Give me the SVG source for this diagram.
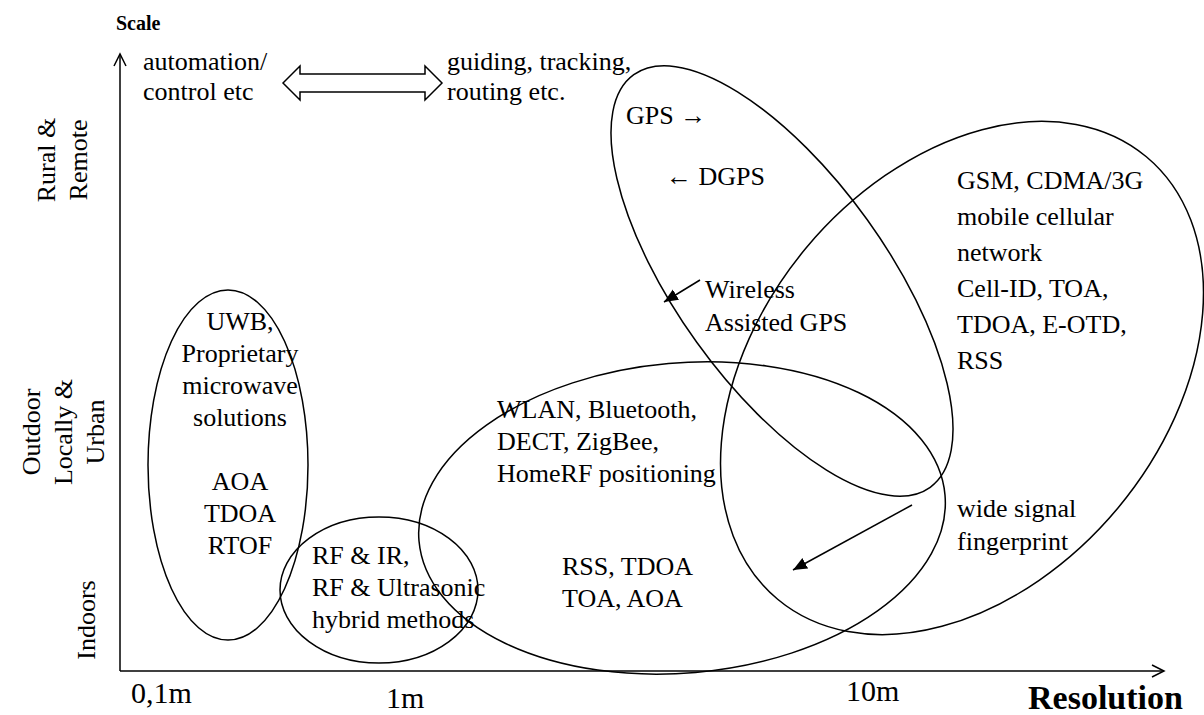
<svg xmlns="http://www.w3.org/2000/svg" width="1204" height="715" viewBox="0 0 1204 715">
  <style>
    text { font-family: "Liberation Serif", "Times New Roman", serif; font-size: 26px; fill: #000; }
    .bold { font-weight: bold; }
    .tick { font-size: 30px; }
    .mid { text-anchor: middle; }
    .ring { fill: none; stroke: #000; stroke-width: 1.5; }
    .axis { fill: none; stroke: #000; stroke-width: 1.5; }
    .link { fill: none; stroke: #000; stroke-width: 1.5; }
  </style>
  <defs>
    <marker id="open" markerWidth="16" markerHeight="16" refX="13" refY="8" orient="auto" markerUnits="userSpaceOnUse">
      <path d="M1,2 L13,8 L1,14" fill="none" stroke="#000" stroke-width="1.5"/>
    </marker>
    <marker id="solid" markerWidth="16" markerHeight="14" refX="14" refY="7" orient="auto" markerUnits="userSpaceOnUse">
      <path d="M0,1 L14,7 L0,13 Z" fill="#000"/>
    </marker>
  </defs>

  <!-- axes -->
  <g id="axes">
    <line class="axis" x1="120" y1="671" x2="120" y2="54" marker-end="url(#open)"/>
    <line class="axis" x1="120" y1="671" x2="1164" y2="671" marker-end="url(#open)"/>
    <text class="bold" x="116" y="30" style="font-size:20px">Scale</text>
    <text class="bold" x="1028" y="709" style="font-size:34px">Resolution</text>
    <text class="tick" x="131" y="703">0,1m</text>
    <text class="tick" x="386" y="708">1m</text>
    <text class="tick" x="846" y="701">10m</text>
  </g>

  <!-- scale labels on the vertical axis -->
  <g id="scale-labels">
    <text class="mid" transform="translate(55,160) rotate(-90)">Rural &amp;</text>
    <text class="mid" transform="translate(87,160) rotate(-90)">Remote</text>
    <text class="mid" transform="translate(40,432) rotate(-90)">Outdoor</text>
    <text class="mid" transform="translate(72,432) rotate(-90)">Locally &amp;</text>
    <text class="mid" transform="translate(104,432) rotate(-90)">Urban</text>
    <text class="mid" transform="translate(95,620) rotate(-90)">Indoors</text>
  </g>

  <!-- application range -->
  <g id="applications">
    <text x="143" y="70">automation/</text>
    <text x="143" y="100">control etc</text>
    <path class="ring" d="M283,83 L300,66 L300,74 L425,74 L425,66 L442,83 L425,100 L425,92 L300,92 L300,100 Z" stroke-width="1.2"/>
    <text x="447" y="70">guiding, tracking,</text>
    <text x="447" y="100">routing etc.</text>
  </g>

  <g id="uwb">
    <ellipse class="ring" cx="228" cy="465" rx="80" ry="175"/>
    <text class="mid" x="240" y="330">UWB,</text>
    <text class="mid" x="240" y="362">Proprietary</text>
    <text class="mid" x="240" y="394">microwave</text>
    <text class="mid" x="240" y="426">solutions</text>
    <text class="mid" x="240" y="490">AOA</text>
    <text class="mid" x="240" y="522">TDOA</text>
    <text class="mid" x="240" y="554">RTOF</text>
  </g>

  <g id="hybrid">
    <ellipse class="ring" cx="379" cy="590" rx="99" ry="73"/>
    <text x="312" y="564">RF &amp; IR,</text>
    <text x="312" y="596">RF &amp; Ultrasonic</text>
    <text x="312" y="628">hybrid methods</text>
  </g>

  <g id="wlan">
    <ellipse class="ring" cx="682" cy="518" rx="264" ry="155" transform="rotate(-5 682 518)"/>
    <text x="497" y="418">WLAN, Bluetooth,</text>
    <text x="497" y="450">DECT, ZigBee,</text>
    <text x="497" y="482">HomeRF positioning</text>
    <text x="562" y="575">RSS, TDOA</text>
    <text x="562" y="607">TOA, AOA</text>
  </g>

  <g id="gps">
    <ellipse class="ring" cx="782" cy="281" rx="254" ry="105" transform="rotate(54.3 782 281)"/>
    <text x="626" y="124">GPS →</text>
    <text x="666" y="185">← DGPS</text>
    <text x="705" y="298">Wireless</text>
    <text x="705" y="331">Assisted GPS</text>
  </g>

  <g id="cellular">
    <ellipse class="ring" cx="962" cy="378" rx="288" ry="203" transform="rotate(-50.2 962 378)"/>
    <text x="957" y="189">GSM, CDMA/3G</text>
    <text x="957" y="225">mobile cellular</text>
    <text x="957" y="261">network</text>
    <text x="957" y="297">Cell-ID, TOA,</text>
    <text x="957" y="333">TDOA, E-OTD,</text>
    <text x="957" y="369">RSS</text>
  </g>

  <g id="fingerprint">
    <text x="957" y="517">wide signal</text>
    <text x="957" y="550">fingerprint</text>
  </g>

  <!-- pointer arrows -->
  <g id="connectors">
    <line class="link" x1="700" y1="280" x2="664" y2="302" marker-end="url(#solid)"/>
    <line class="link" x1="912" y1="505" x2="793" y2="570" marker-end="url(#solid)"/>
  </g>
</svg>
